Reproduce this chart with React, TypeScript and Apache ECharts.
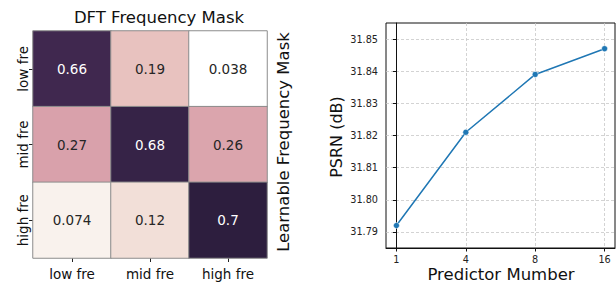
import React, { useEffect, useRef } from 'react';
import * as echarts from 'echarts';

const heatCols = ['low fre', 'mid fre', 'high fre'];
const heatRows = ['low fre', 'mid fre', 'high fre'];
const heatValues = [
  [0.66, 0.19, 0.038],
  [0.27, 0.68, 0.26],
  [0.074, 0.12, 0.7],
];
const predictorLabels = ['1', '4', '8', '16'];
const psnrValues = [31.792, 31.821, 31.839, 31.847];
const psnrTicks = [31.79, 31.8, 31.81, 31.82, 31.83, 31.84, 31.85];

const FONT = 'DejaVu Sans';

// seaborn cubehelix palette (light=1, dark=0.15) colour stops
function cubehelix(x: number): string {
  const a = (0.8 * x * (1 - x)) / 2;
  const phi = 2 * Math.PI * (0.4 * x);
  const c = Math.cos(phi);
  const s = Math.sin(phi);
  const r = x + a * (-0.14861 * c + 1.78277 * s);
  const g = x + a * (-0.29227 * c - 0.90649 * s);
  const b = x + a * (1.97294 * c);
  const h = (v: number) => {
    const n = Math.round(Math.max(0, Math.min(1, v)) * 255);
    return n.toString(16).padStart(2, '0');
  };
  return '#' + h(r) + h(g) + h(b);
}
const paletteStops: string[] = [];
for (let i = 0; i <= 24; i++) {
  paletteStops.push(cubehelix(1 - 0.85 * (i / 24)));
}

export default function App() {
  const ref = useRef<HTMLDivElement>(null);
  useEffect(() => {
    if (!ref.current) return;
    const chart = echarts.init(ref.current, undefined, { renderer: 'svg' });
    const flat: number[] = heatValues.flat();
    const vmin = Math.min(...flat);
    const vmax = Math.max(...flat);
    const heatData: any[] = [];
    heatValues.forEach((row, ri) => {
      row.forEach((v, ci) => {
        const dark = (v - vmin) / (vmax - vmin) > 0.6;
        heatData.push({
          value: [ci, ri, v],
          label: { color: dark ? '#ffffff' : '#262626' },
        });
      });
    });
    const option: any = {
      animation: false,
      backgroundColor: '#ffffff',
      textStyle: { fontFamily: FONT },
      grid: [
        { left: 33, top: 31, width: 234, height: 227 },
        {
          left: 386,
          top: 23,
          width: 229,
          height: 225,
          show: true,
          borderColor: '#111',
          borderWidth: 1,
          backgroundColor: 'transparent',
        },
      ],
      visualMap: {
        type: 'continuous',
        show: false,
        min: vmin,
        max: vmax,
        dimension: 2,
        seriesIndex: 0,
        inRange: { color: paletteStops },
      },
      xAxis: [
        {
          type: 'category',
          gridIndex: 0,
          data: heatCols,
          axisLine: { show: false },
          axisTick: {
            show: true,
            alignWithLabel: true,
            length: 4,
            lineStyle: { color: '#222', width: 1 },
          },
          axisLabel: {
            fontSize: 13.5,
            fontFamily: FONT,
            color: '#111',
            margin: 9,
          },
          splitLine: { show: false },
        },
        {
          type: 'value',
          gridIndex: 1,
          min: -0.15,
          max: 3.15,
          axisLine: { show: true, lineStyle: { color: '#111', width: 1 } },
          axisTick: {
            show: true,
            customValues: [0, 1, 2, 3],
            length: 3.5,
            lineStyle: { color: '#111', width: 1 },
          },
          axisLabel: {
            customValues: [0, 1, 2, 3],
            formatter: (v: number) => predictorLabels[Math.round(v)] ?? '',
            fontSize: 9.7,
            fontFamily: FONT,
            color: '#222',
            margin: 6,
          },
          splitLine: {
            show: true,
            lineStyle: { color: '#c8c8c8', type: [3, 2], width: 0.8 },
          },
        },
      ],
      yAxis: [
        {
          type: 'category',
          gridIndex: 0,
          data: heatRows,
          inverse: true,
          axisLine: { show: false },
          axisTick: {
            show: true,
            alignWithLabel: true,
            length: 4,
            lineStyle: { color: '#222', width: 1 },
          },
          axisLabel: {
            rotate: 90,
            fontSize: 13.5,
            fontFamily: FONT,
            color: '#111',
            margin: 3,
          },
          splitLine: { show: false },
        },
        {
          type: 'value',
          gridIndex: 1,
          min: 31.785,
          max: 31.855,
          axisLine: { show: true, lineStyle: { color: '#111', width: 1 } },
          axisTick: {
            show: true,
            customValues: psnrTicks,
            length: 3.5,
            lineStyle: { color: '#111', width: 1 },
          },
          axisLabel: {
            customValues: psnrTicks,
            formatter: (v: number) => v.toFixed(2),
            fontSize: 9.7,
            fontFamily: FONT,
            color: '#222',
            margin: 8,
          },
          splitLine: {
            show: true,
            lineStyle: { color: '#c8c8c8', type: [3, 2], width: 0.8 },
          },
        },
      ],
      series: [
        {
          type: 'heatmap',
          xAxisIndex: 0,
          yAxisIndex: 0,
          data: heatData,
          itemStyle: { borderColor: '#8c8c8c', borderWidth: 1 },
          label: {
            show: true,
            fontSize: 13.5,
            fontFamily: FONT,
            formatter: (p: any) => String(p.value[2]),
          },
          emphasis: { disabled: true },
        },
        {
          type: 'line',
          xAxisIndex: 1,
          yAxisIndex: 1,
          data: psnrValues.map((v, i) => [i, v]),
          symbol: 'circle',
          symbolSize: 6,
          lineStyle: { color: '#1f77b4', width: 1.5 },
          itemStyle: { color: '#1f77b4', borderColor: '#ffffff', borderWidth: 0.5 },
          emphasis: { disabled: true },
        },
      ],
      graphic: [
        {
          type: 'text',
          x: 159,
          y: 17,
          style: {
            text: 'DFT Frequency Mask',
            fontSize: 16.5,
            fontFamily: FONT,
            fill: '#111',
            align: 'center',
            verticalAlign: 'middle',
          },
        },
        {
          type: 'text',
          x: 283,
          y: 142,
          rotation: Math.PI / 2,
          style: {
            text: 'Learnable Frequency Mask',
            fontSize: 16.5,
            fontFamily: FONT,
            fill: '#111',
            align: 'center',
            verticalAlign: 'middle',
          },
        },
        {
          type: 'text',
          x: 336.5,
          y: 137,
          rotation: Math.PI / 2,
          style: {
            text: 'PSRN (dB)',
            fontSize: 16,
            fontFamily: FONT,
            fill: '#111',
            align: 'center',
            verticalAlign: 'middle',
          },
        },
        {
          type: 'text',
          x: 501,
          y: 283,
          style: {
            text: 'Predictor Mumber',
            fontSize: 16.5,
            fontFamily: FONT,
            fill: '#111',
            align: 'center',
            verticalAlign: 'bottom',
          },
        },
      ],
    };
    chart.setOption(option);
    return () => {
      chart.dispose();
    };
  }, []);
  return (
    <div
      ref={ref}
      style={{ position: 'fixed', left: 0, top: 0, width: 616, height: 283 }}
    />
  );
}
